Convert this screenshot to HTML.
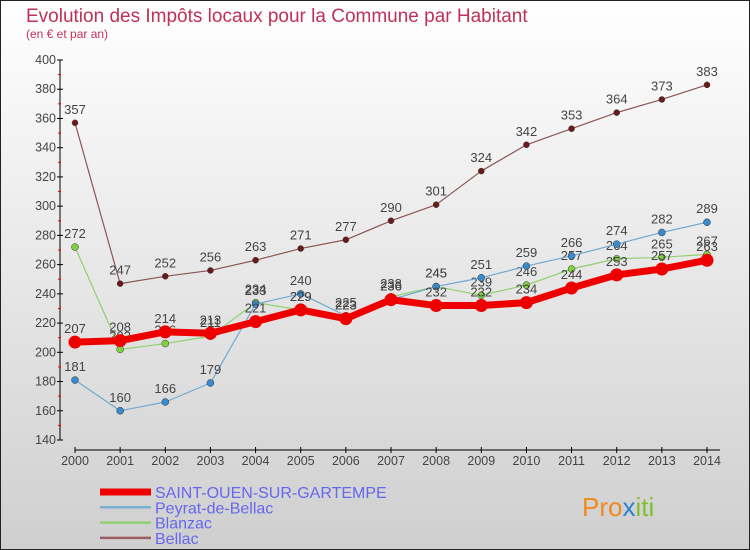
<!DOCTYPE html>
<html><head><meta charset="utf-8"><style>
body{margin:0}
svg{display:block;font-family:"Liberation Sans",sans-serif}
</style></head><body>
<svg id="chart" width="750" height="550">
<defs><linearGradient id="bg" x1="0" y1="0" x2="0" y2="1"><stop offset="0" stop-color="#ffffff"/><stop offset="1" stop-color="#cfcfcf"/></linearGradient></defs>
<rect x="0.5" y="0.5" width="749" height="549" fill="url(#bg)" stroke="#222"/>
<text x="26" y="22" font-size="19" fill="#c0305a">Evolution des Impôts locaux pour la Commune par Habitant</text>
<text x="26" y="38" font-size="12" fill="#c0305a">(en € et par an)</text>
<g id="axes"></g>
<g id="series"></g>
<g id="legend"></g>
<text x="582" y="516" font-size="26" fill="#f08a20">Pro<tspan fill="#2a7fd0">x</tspan><tspan fill="#80c030">iti</tspan></text>
</svg>
<script>
const years=[2000,2001,2002,2003,2004,2005,2006,2007,2008,2009,2010,2011,2012,2013,2014];
const yTicks=[140,160,180,200,220,240,260,280,300,320,340,360,380,400];
const seriesNames=["SAINT-OUEN-SUR-GARTEMPE","Peyrat-de-Bellac","Blanzac","Bellac"];
const saintOuen=[207,208,214,213,221,229,223,236,232,232,234,244,253,257,263];
const peyrat=[181,160,166,179,233,240,225,236,245,251,259,266,274,282,289];
const blanzac=[272,202,206,211,234,229,223,238,245,239,246,257,264,265,267];
const bellac=[357,247,252,256,263,271,277,290,301,324,342,353,364,373,383];

const NS="http://www.w3.org/2000/svg";
const xS=i=>75+i*(707-75)/(years.length-1);
const yS=v=>440-(v-140)*(380/260);
function mk(tag,attrs,parent,txt){const e=document.createElementNS(NS,tag);for(const k in attrs)e.setAttribute(k,attrs[k]);if(txt!==undefined)e.textContent=txt;parent.appendChild(e);return e;}
const axes=document.getElementById('axes');
let yl=mk('line',{x1:60,y1:60,x2:60,y2:440,stroke:'#000'},axes);


yTicks.forEach(v=>{
  mk('line',{x1:57,x2:63,y1:yS(v),y2:yS(v),stroke:'#000'},axes);
  const t=mk('text',{x:56,y:yS(v)+4,'font-size':12.5,'text-anchor':'end',fill:'#444'},axes,v);
  
  
  if(v<400) mk('line',{x1:58,x2:61,y1:yS(v+10),y2:yS(v+10),stroke:'#e00'},axes);
});
let xl=mk('line',{x1:75,y1:450,x2:720,y2:450,stroke:'#000'},axes);


years.forEach((y,i)=>{
  mk('line',{x1:xS(i),x2:xS(i),y1:447,y2:453,stroke:'#000'},axes);
  const t=mk('text',{x:xS(i),y:465,'font-size':12.5,'text-anchor':'middle',fill:'#444'},axes,y);
  
  
});
const sg=document.getElementById('series');
const defs=[
 {d:bellac,c:'#6b1a1a',w:1.2,r:3,lc:'#8b5555',name:'bellac'},
 {d:blanzac,c:'#80d040',w:1.2,r:3.5,lc:'#90d070',name:'blanzac'},
 {d:peyrat,c:'#3a8acc',w:1.2,r:3.5,lc:'#70a8d0',name:'peyrat-de-bellac'},
 {d:saintOuen,c:'#ee0000',w:7,r:6.5,lc:'#ee0000',name:'saint-ouen'}
];
defs.forEach(s=>{
  const g=mk('g',{},sg);
  
  
  const pl=mk('polyline',{points:s.d.map((v,i)=>xS(i)+','+yS(v)).join(' '),fill:'none',stroke:s.lc,'stroke-width':s.w,'stroke-linejoin':'round'},g);
  
  
  s.d.forEach((v,i)=>{
    const c=mk('circle',{cx:xS(i),cy:yS(v),r:s.r,fill:s.c,stroke:'#333','stroke-width':s.name==='saint-ouen'?0:0.5},g);
    
    
    const t=mk('text',{x:xS(i),y:yS(v)-9,'font-size':13,'text-anchor':'middle',fill:'#444'},g,v);
    
    
  });
});
const lg=document.getElementById('legend');
const lcol=['#ee0000','#7ab0d0','#90d070','#9a6060'];
const lw=[7,2.5,2.5,2.5];
seriesNames.forEach((n,i)=>{
  const y=492+i*15.3;
  const g=mk('g',{},lg);
  
  
  mk('line',{x1:100,x2:151,y1:y,y2:y,stroke:lcol[i],'stroke-width':lw[i]},g);
  mk('text',{x:155,y:y+6,'font-size':16,fill:'#6666ee'},g,n);
});
</script>
</body></html>
